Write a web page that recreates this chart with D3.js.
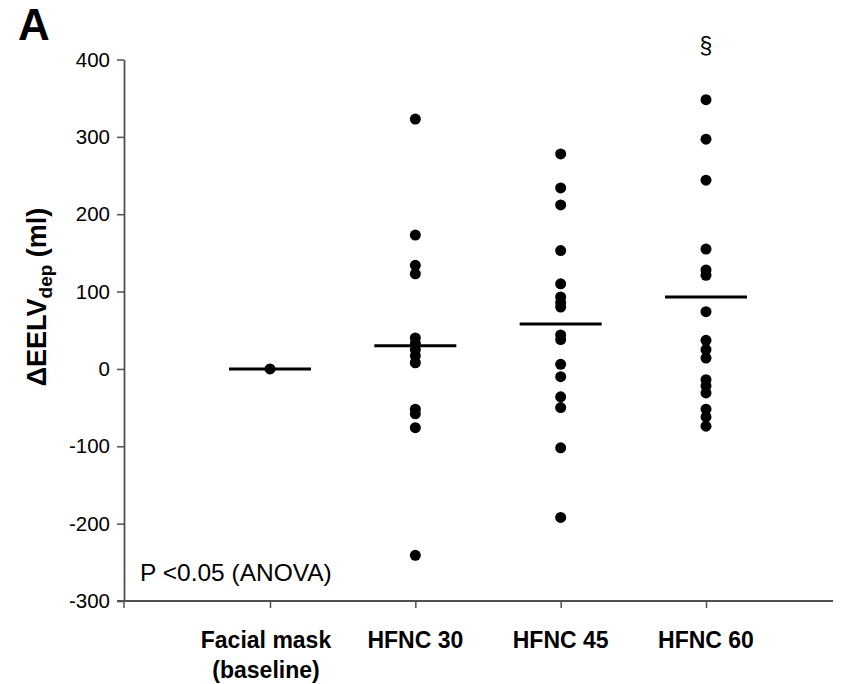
<!DOCTYPE html>
<html>
<head>
<meta charset="utf-8">
<script src="https://cdn.jsdelivr.net/npm/d3@7"></script>
<style>
  html, body { margin: 0; padding: 0; background: #fff; }
  svg { display: block; font-family: "Liberation Sans", Arial, sans-serif; }
</style>
</head>
<body>
<svg id="chart" width="841" height="684"></svg>
<script>
// Change in end-expiratory lung volume per device setting (ml)
const categories = ["Facial mask|(baseline)", "HFNC 30", "HFNC 45", "HFNC 60"];
const facialMask = [0];
const hfnc30 = [323, 173, 134, 123, 40, 33, 25, 17, 8, -52, -58, -76, -241];
const hfnc45 = [278, 234, 212, 153, 110, 93, 86, 80, 44, 38, 6, -10, -36, -50, -102, -192];
const hfnc60 = [348, 297, 244, 155, 128, 121, 74, 37, 25, 14, -14, -22, -31, -52, -62, -74];
const groupMeans = [0, 30, 58, 93];
const yTicks = [-300, -200, -100, 0, 100, 200, 300, 400];
const significance = ["", "", "", "§"];

const groups = [facialMask, hfnc30, hfnc45, hfnc60];

const svg = d3.select("#chart");
const axisColor = "#505050";

const y = d3.scaleLinear().domain([-300, 400]).range([601, 59.5]);
const x = d3.scalePoint().domain(categories).range([270, 706]);
const axisLeft = 124, axisRight = 833;

// Panel letter
svg.append("text").attr("x", 18).attr("y", 40)
  .attr("font-size", 44).attr("font-weight", "bold").text("A");

// Y axis
const yAxis = svg.append("g").attr("transform", `translate(${axisLeft},0)`)
  .call(d3.axisLeft(y).tickValues(yTicks).tickSize(7).tickSizeOuter(0).tickPadding(7)
    .tickFormat(d => String(d)));
yAxis.select(".domain").attr("stroke", axisColor).attr("stroke-width", 1.8);
yAxis.selectAll(".tick line").attr("stroke", axisColor).attr("stroke-width", 1.5);
yAxis.selectAll(".tick text").attr("font-size", 20.5).attr("fill", "#000")
  .attr("font-family", "'Liberation Sans', Arial, sans-serif");

// X axis: line spanning the full plot, ticks at each category
const xAxis = svg.append("g").attr("transform", `translate(0,${y(-300)})`)
  .call(d3.axisBottom(x).tickSize(7).tickSizeOuter(0).tickFormat(""));
xAxis.select(".domain").remove();
xAxis.insert("line", ":first-child")
  .attr("x1", axisLeft - 7).attr("x2", axisRight)
  .attr("stroke", axisColor).attr("stroke-width", 1.8);
xAxis.append("line").attr("x1", axisLeft).attr("x2", axisLeft).attr("y1", 0).attr("y2", 7)
  .attr("stroke", axisColor).attr("stroke-width", 1.5);
xAxis.selectAll(".tick line").attr("stroke", axisColor).attr("stroke-width", 1.5);

// Category labels (two lines where needed)
categories.forEach(c => {
  const lines = c.split("|");
  const t = svg.append("text").attr("text-anchor", "middle")
    .attr("font-size", 23).attr("font-weight", "bold");
  lines.forEach((l, i) => {
    t.append("tspan").attr("x", x(c) - (lines.length > 1 ? 4 : 0))
      .attr("y", 648 + i * 30).text(l);
  });
});

// Y axis title: ΔEELV_dep (ml)
const yTitle = svg.append("text")
  .attr("transform", `translate(46,297) rotate(-90)`)
  .attr("text-anchor", "middle").attr("font-size", 27).attr("font-weight", "bold");
yTitle.append("tspan").text("ΔEELV");
yTitle.append("tspan").attr("font-size", 19).attr("dy", 6).text("dep");
yTitle.append("tspan").attr("dy", -6).text(" (ml)");

// Points
const pts = [];
groups.forEach((vals, gi) => vals.forEach(v => pts.push({ c: categories[gi], v })));
svg.append("g").selectAll("circle").data(pts).join("circle")
  .attr("cx", d => x(d.c)).attr("cy", d => y(d.v)).attr("r", 5.5).attr("fill", "#000");

// Group mean bars
svg.append("g").selectAll("line").data(categories).join("line")
  .attr("x1", d => x(d) - 41).attr("x2", d => x(d) + 41)
  .attr("y1", (d, i) => y(groupMeans[i])).attr("y2", (d, i) => y(groupMeans[i]))
  .attr("stroke", "#000").attr("stroke-width", 3);

// Significance markers
svg.append("g").selectAll("text").data(categories).join("text")
  .attr("x", d => x(d)).attr("y", 54).attr("text-anchor", "middle")
  .attr("font-size", 23).text((d, i) => significance[i]);

// Test annotation
svg.append("text").attr("x", 140).attr("y", 581).attr("font-size", 24.5)
  .text("P <0.05 (ANOVA)");
</script>
</body>
</html>
